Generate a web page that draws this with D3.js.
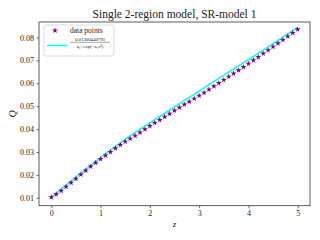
<!DOCTYPE html>
<html>
<head>
<meta charset="utf-8">
<script src="https://cdn.jsdelivr.net/npm/d3@7"></script>
<style>
  body { margin: 0; background: #fff; }
  text { font-family: "Liberation Serif", "DejaVu Serif", serif; fill: #222; }
</style>
</head>
<body>
<svg id="chart" width="320" height="240"></svg>
<script>
// data
const zValues = d3.range(51).map(i => i / 10);
const qPoints = [
  0.0102, 0.0115, 0.0130, 0.0148, 0.0165, 0.0183, 0.0201, 0.0219, 0.0236, 0.0253,
  0.0269, 0.0285, 0.0300, 0.0316, 0.0331, 0.0345, 0.0358, 0.0371, 0.0385, 0.0399,
  0.0413, 0.0427, 0.0440, 0.0454, 0.0467, 0.0481, 0.0494, 0.0507, 0.0520, 0.0533,
  0.0546, 0.0559, 0.0573, 0.0587, 0.0601, 0.0615, 0.0629, 0.0643, 0.0657, 0.0671,
  0.0686, 0.0701, 0.0715, 0.0730, 0.0745, 0.0760, 0.0775, 0.0790, 0.0805, 0.0820,
  0.0836
];
const fitZ = [0, 0.5, 1, 1.5, 2, 2.5, 3, 3.5, 4, 4.5, 5];
const fitQ = [0.0103, 0.0190, 0.0275, 0.0355, 0.0427, 0.0497, 0.0566, 0.0636, 0.0704, 0.0774, 0.0845];
const xTicks = [0, 1, 2, 3, 4, 5];
const yTicks = [0.01, 0.02, 0.03, 0.04, 0.05, 0.06, 0.07, 0.08];

const plotLeft = 39, plotRight = 310, plotTop = 22, plotBottom = 205.7;

const x = d3.scaleLinear().domain([-0.25, 5.25]).range([plotLeft, plotRight]);
const y = d3.scaleLinear().domain([0.0065, 0.0868]).range([plotBottom, plotTop]);

const svg = d3.select('#chart');

// fitted curve
svg.append('path')
  .datum(d3.zip(fitZ, fitQ))
  .attr('fill', 'none')
  .attr('stroke', '#00ffff')
  .attr('stroke-width', 1.5)
  .attr('d', d3.line().x(d => x(d[0])).y(d => y(d[1])).curve(d3.curveMonotoneX));

// data points
const star = d3.symbol().type(d3.symbolStar).size(11);
svg.append('g')
  .selectAll('path')
  .data(d3.zip(zValues, qPoints))
  .join('path')
  .attr('transform', d => `translate(${x(d[0])},${y(d[1])})`)
  .attr('d', star)
  .attr('fill', '#800080');

// axes
const xAxis = svg.append('g')
  .attr('transform', `translate(0,${plotBottom})`)
  .call(d3.axisBottom(x).tickValues(xTicks).tickSize(2.5).tickPadding(2.5).tickFormat(d3.format('d')));
const yAxis = svg.append('g')
  .attr('transform', `translate(${plotLeft},0)`)
  .call(d3.axisLeft(y).tickValues(yTicks).tickSize(2.5).tickPadding(2.5).tickFormat(d3.format('.2f')));

[xAxis, yAxis].forEach(g => {
  g.select('.domain').remove();
  g.selectAll('line').attr('stroke', '#333').attr('stroke-width', 0.7);
  g.selectAll('text').style('font-family', '"Liberation Serif", serif').style('font-size', '8px').attr('fill', '#333');
});

svg.append('rect')
  .attr('x', plotLeft).attr('y', plotTop)
  .attr('width', plotRight - plotLeft).attr('height', plotBottom - plotTop)
  .attr('fill', 'none').attr('stroke', '#333').attr('stroke-width', 0.8);

// labels
svg.append('text')
  .attr('x', (plotLeft + plotRight) / 2).attr('y', 18)
  .attr('text-anchor', 'middle')
  .style('font-size', '11.5px')
  .text('Single 2-region model, SR-model 1');

svg.append('text')
  .attr('x', x(2.5)).attr('y', 227)
  .attr('text-anchor', 'middle')
  .style('font-size', '9px').style('font-style', 'italic')
  .text('z');

svg.append('text')
  .attr('transform', `translate(16,${(plotTop + plotBottom) / 2}) rotate(-90)`)
  .attr('text-anchor', 'middle')
  .style('font-size', '10px').style('font-style', 'italic')
  .text('Q');

// legend
const leg = svg.append('g');
leg.append('rect')
  .attr('x', 44).attr('y', 25).attr('width', 70).attr('height', 31).attr('rx', 2)
  .attr('fill', '#fff').attr('fill-opacity', 0.8)
  .attr('stroke', '#ccc').attr('stroke-width', 0.7);
leg.append('path')
  .attr('transform', 'translate(55,30.5)')
  .attr('d', star)
  .attr('fill', '#800080');
leg.append('text')
  .attr('x', 70).attr('y', 33)
  .style('font-size', '7.5px')
  .text('data points');
leg.append('line')
  .attr('x1', 47).attr('x2', 67).attr('y1', 45.5).attr('y2', 45.5)
  .attr('stroke', '#00ffff').attr('stroke-width', 1.5);
leg.append('text')
  .attr('x', 90).attr('y', 41)
  .attr('text-anchor', 'middle')
  .style('font-size', '4.8px')
  .text('0.01300440793');
leg.append('line')
  .attr('x1', 70).attr('x2', 110).attr('y1', 42.3).attr('y2', 42.3)
  .attr('stroke', '#222').attr('stroke-width', 0.4);
leg.append('text')
  .attr('x', 90).attr('y', 47.8)
  .attr('text-anchor', 'middle')
  .style('font-size', '4.8px')
  .text('a₀+exp(−a₁z²)');
</script>
</body>
</html>
